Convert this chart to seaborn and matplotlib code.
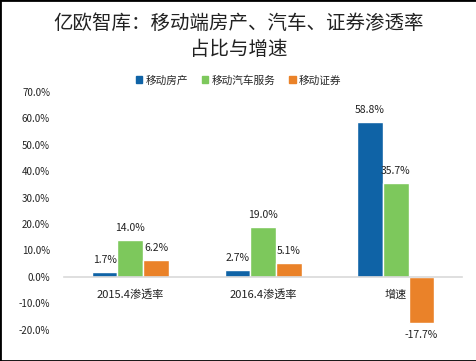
import numpy as np
import matplotlib
matplotlib.use("Agg")
import matplotlib.pyplot as plt
import seaborn as sns
import pandas as pd
from matplotlib.patches import Rectangle

sns.set_theme(style="white")
plt.rcParams['font.family'] = ['Noto Sans CJK SC', 'DejaVu Sans']

#%% data
categories = ["2015.4渗透率", "2016.4渗透率", "增速"]
series = ["移动房产", "移动汽车服务", "移动证券"]
house = [1.7, 2.7, 58.8]
car = [14.0, 19.0, 35.7]
securities = [6.2, 5.1, -17.7]
colors = ["#0F63A6", "#7DC85C", "#EA8229"]
yticks = [-20, -10, 0, 10, 20, 30, 40, 50, 60, 70]

df = pd.DataFrame({
    "类别": categories * 3,
    "系列": [s for s in series for _ in categories],
    "值": house + car + securities,
})

#%% plot
fig = plt.figure(figsize=(4.77, 3.61), dpi=100)
ax = fig.add_axes([0.134, 0.014, 0.835, 0.731])

sns.barplot(df, x="类别", y="值", hue="系列", hue_order=series,
            order=categories, palette=colors, width=0.58, gap=0,
            saturation=1, ax=ax, legend=False)

for cont in ax.containers:
    ax.bar_label(cont, labels=["{:.1f}%".format(v) for v in cont.datavalues],
                 padding=5, fontsize=7.5, color="#222222")

ax.set_ylim(-30, 70)
ax.set_xlim(-0.5, 2.5)
ax.set_yticks(yticks)
ax.set_yticklabels(["{:.1f}%".format(t) for t in yticks], fontsize=7, color="#222222")
ax.tick_params(axis="y", length=0, pad=10)
ax.tick_params(axis="x", length=0, pad=9, labelsize=8, labelcolor="#222222")
ax.set_xlabel("")
ax.set_ylabel("")
for s in ["top", "right", "left"]:
    ax.spines[s].set_visible(False)
ax.spines["bottom"].set_position(("data", 0))
ax.spines["bottom"].set_color("#D9D9D9")
ax.spines["bottom"].set_linewidth(1.2)
ax.patch.set_alpha(0)

handles = [Rectangle((0, 0), 1, 1, color=c) for c in colors]
fig.legend(handles, series, loc="center", bbox_to_anchor=(0.5, 0.778), ncol=3,
           frameon=False, fontsize=7.7, handlelength=0.6, handleheight=0.6,
           handletextpad=0.3, columnspacing=1.3)

fig.text(0.5, 0.934, "亿欧智库：移动端房产、汽车、证券渗透率", ha="center",
         va="center", fontsize=14, color="#222222")
fig.text(0.5, 0.862, "占比与增速", ha="center", va="center",
         fontsize=14, color="#222222")

fig.patches.append(Rectangle((0, 0), 1, 1, transform=fig.transFigure,
                             fill=False, edgecolor="black", linewidth=2))

fig.savefig("out.png", dpi=100)
